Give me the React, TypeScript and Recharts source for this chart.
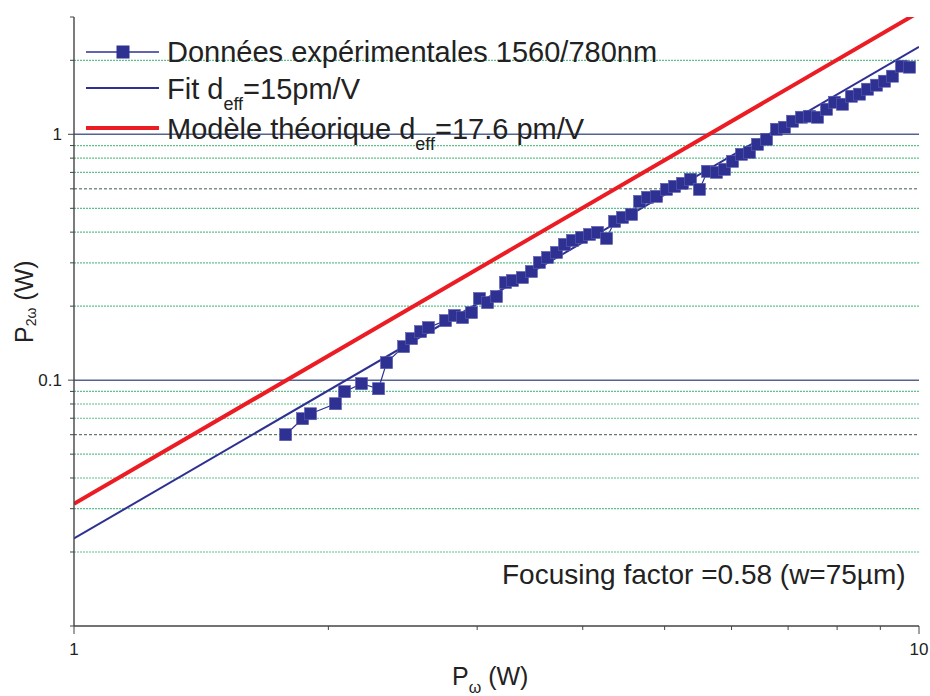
import {
  ComposedChart,
  Line,
  XAxis,
  YAxis,
  ReferenceLine,
  Legend,
  Customized,
} from "recharts";

// measured points (P_omega in W, P_2omega in W)
const pOmega = [
  1.78, 1.864, 1.905, 2.039, 2.09, 2.189, 2.293, 2.344, 2.455, 2.509, 2.571,
  2.627, 2.752, 2.82, 2.883, 2.954, 3.019, 3.086, 3.162, 3.241, 3.303, 3.394,
  3.478, 3.555, 3.634, 3.724, 3.806, 3.89, 3.987, 4.075, 4.165, 4.268, 4.362,
  4.458, 4.569, 4.67, 4.773, 4.891, 5.026, 5.137, 5.25, 5.365, 5.498, 5.619,
  5.759, 5.886, 6.016, 6.165, 6.301, 6.44, 6.6, 6.782, 6.931, 7.085, 7.26,
  7.42, 7.585, 7.772, 7.943, 8.118, 8.319, 8.503, 8.691, 8.906, 9.103, 9.303,
  9.535, 9.745,
];
const p2Omega = [
  0.06, 0.0697, 0.073, 0.0802, 0.0898, 0.0968, 0.0923, 0.1178, 0.1369, 0.1476,
  0.1576, 0.1636, 0.1747, 0.1831, 0.1797, 0.1883, 0.2148, 0.2068, 0.2189,
  0.2495, 0.2542, 0.2615, 0.2766, 0.3011, 0.3155, 0.3307, 0.3564, 0.3701,
  0.3806, 0.3914, 0.3988, 0.3771, 0.4422, 0.4591, 0.4722, 0.5335, 0.5539,
  0.5592, 0.597, 0.614, 0.6315, 0.6557, 0.597, 0.7068, 0.7002, 0.7201, 0.7762,
  0.829, 0.8446, 0.9105, 0.9541, 1.048, 1.068, 1.13, 1.173, 1.184, 1.173,
  1.264, 1.35, 1.325, 1.428, 1.456, 1.525, 1.584, 1.644, 1.723, 1.892, 1.875,
];

// fit d_eff = 15 pm/V and theoretical model d_eff = 17.6 pm/V (end points)
const fitX = [1, 10];
const fitY = [0.0227, 2.27];
const modelX = [1, 10];
const modelY = [0.0314, 3.14];

const xTicks = [1, 2, 3, 4, 5, 6, 7, 8, 9, 10];
const yTicks = [
  0.01, 0.02, 0.03, 0.04, 0.05, 0.06, 0.07, 0.08, 0.09, 0.1, 0.2, 0.3, 0.4,
  0.5, 0.6, 0.7, 0.8, 0.9, 1, 2, 3,
];
const yMajor = [0.1, 1];
const greenLines = [
  0.02, 0.03, 0.04, 0.05, 0.07, 0.08, 0.09, 0.2, 0.3, 0.4, 0.5, 0.7, 0.8, 0.9,
  2,
];
const darkLines = [0.06, 0.6];

const measured = pOmega.map((x, i) => ({ x, y: p2Omega[i] }));
const fitData = fitX.map((x, i) => ({ x, y: fitY[i] }));
const modelData = modelX.map((x, i) => ({ x, y: modelY[i] }));

const FONT = "'Liberation Sans', Arial, sans-serif";
const BLUE = "#2e3192";
const RED = "#ec1c24";
const AXIS = "#444";

const LeftTick = (props: any) => {
  const { x, y, payload } = props;
  const major = yMajor.includes(payload.value);
  return (
    <g>
      <line x1={x - (major ? 6 : 4)} x2={x} y1={y} y2={y} stroke={AXIS} />
      {major && (
        <text x={x - 12} y={y + 6} textAnchor="end" fontSize={17} fontFamily={FONT} fill="#222">
          {payload.value}
        </text>
      )}
    </g>
  );
};

const RightTick = (props: any) => {
  const { x, y, payload } = props;
  if (payload.value === 3 || payload.value === 0.01) return <g />;
  return <line x1={x - 5} x2={x} y1={y} y2={y} stroke={AXIS} />;
};

const BottomTick = (props: any) => {
  const { x, y, payload } = props;
  const major = payload.value === 1 || payload.value === 10;
  return (
    <g>
      <line x1={x} x2={x} y1={y} y2={y + (major ? 8 : 4)} stroke={AXIS} />
      {major && (
        <text x={x} y={y + 29} textAnchor="middle" fontSize={17} fontFamily={FONT} fill="#222">
          {payload.value}
        </text>
      )}
    </g>
  );
};

const TopTick = (props: any) => {
  const { x, y, payload } = props;
  if (payload.value === 1 || payload.value === 10) return <g />;
  return <line x1={x} x2={x} y1={y} y2={y + 4} stroke={AXIS} />;
};

const square = (props: any) => {
  const { cx, cy, index } = props;
  return (
    <rect
      key={`pt-${index}`}
      x={cx - 6}
      y={cy - 6}
      width={12}
      height={12}
      fill={BLUE}
      stroke="#5a5db0"
      strokeWidth={0.6}
    />
  );
};

const LegendBox = () => (
  <svg width={700} height={160} style={{ display: "block" }}>
    <g fontFamily={FONT} fill="#222">
      <line x1={86} x2={159} y1={52} y2={52} stroke={BLUE} strokeWidth={1.5} />
      <rect x={116.5} y={45.5} width={13} height={13} fill={BLUE} />
      <text x={167} y={62} fontSize={29}>
        Données expérimentales 1560/780nm
      </text>

      <line x1={86} x2={159} y1={88} y2={88} stroke={BLUE} strokeWidth={2} />
      <text x={167} y={99} fontSize={29}>
        Fit d
        <tspan fontSize={18} dy={11}>eff</tspan>
        <tspan dy={-11}>=15pm/V</tspan>
      </text>

      <line x1={86} x2={159} y1={128} y2={128} stroke={RED} strokeWidth={4} />
      <text x={167} y={139} fontSize={29}>
        Modèle théorique d
        <tspan fontSize={18} dy={11}>eff</tspan>
        <tspan dy={-11}>=17.6 pm/V</tspan>
      </text>
    </g>
  </svg>
);

const Annotations = () => (
  <g fontFamily={FONT} fill="#222">
    <text x={502} y={584} fontSize={28}>
      Focusing factor =0.58 (w=75µm)
    </text>
    <text x={452} y={685} fontSize={25}>
      P
      <tspan fontSize={16} dy={8}>ω</tspan>
      <tspan dy={-8}> (W)</tspan>
    </text>
    <text transform="translate(33,343) rotate(-90)" fontSize={25}>
      P
      <tspan fontSize={14} dy={3}>2ω</tspan>
      <tspan dy={-3}> (W)</tspan>
    </text>
  </g>
);

const App = () => {
  return (
    <div style={{ position: "absolute", left: 0, top: 0 }}>
      <ComposedChart
        width={930}
        height={696}
        margin={{ top: 17, right: 11, bottom: 40, left: 14 }}
        style={{ background: "#fff" }}
      >
        <XAxis
          dataKey="x"
          type="number"
          scale="log"
          domain={[1, 10]}
          ticks={xTicks}
          interval={0}
          allowDataOverflow
          height={30}
          tickSize={0}
          tickMargin={0}
          tickLine={false}
          tick={<BottomTick />}
          stroke={AXIS}
          strokeWidth={1.4}
        />
        <XAxis
          xAxisId="top"
          orientation="top"
          dataKey="x"
          type="number"
          scale="log"
          domain={[1, 10]}
          ticks={xTicks}
          interval={0}
          allowDataOverflow
          height={0}
          tickSize={0}
          tickMargin={0}
          tickLine={false}
          tick={<TopTick />}
          stroke={AXIS}
          strokeWidth={1.4}
        />
        <YAxis
          type="number"
          scale="log"
          domain={[0.01, 3]}
          ticks={yTicks}
          interval={0}
          allowDataOverflow
          width={60}
          tickSize={0}
          tickMargin={0}
          tickLine={false}
          tick={<LeftTick />}
          stroke={AXIS}
          strokeWidth={1.4}
        />
        <YAxis
          yAxisId="right"
          orientation="right"
          type="number"
          scale="log"
          domain={[0.01, 3]}
          ticks={yTicks}
          interval={0}
          allowDataOverflow
          width={0}
          tickSize={0}
          tickMargin={0}
          tickLine={false}
          tick={<RightTick />}
          stroke={AXIS}
          strokeWidth={1.4}
        />

        {greenLines.map((v) => (
          <ReferenceLine
            key={`g-${v}`}
            y={v}
            stroke="#5fc08c"
            strokeWidth={1.2}
            strokeDasharray="2 1"
          />
        ))}
        {darkLines.map((v) => (
          <ReferenceLine
            key={`d-${v}`}
            y={v}
            stroke="#3d5c4c"
            strokeWidth={1}
            strokeDasharray="3 2"
          />
        ))}
        {yMajor.map((v) => (
          <ReferenceLine key={`m-${v}`} y={v} stroke="#52648f" strokeWidth={1.5} />
        ))}

        <Line
          data={modelData}
          dataKey="y"
          stroke={RED}
          strokeWidth={4}
          dot={false}
          isAnimationActive={false}
        />
        <Line
          data={fitData}
          dataKey="y"
          stroke={BLUE}
          strokeWidth={2}
          dot={false}
          isAnimationActive={false}
        />
        <Line
          data={measured}
          dataKey="y"
          stroke={BLUE}
          strokeWidth={1.2}
          dot={square}
          isAnimationActive={false}
        />

        <Legend
          layout="vertical"
          align="center"
          verticalAlign="middle"
          content={() => <LegendBox />}
          wrapperStyle={{ left: 0, top: 0, width: 700, height: 160 }}
        />
        <Customized component={<Annotations />} />
      </ComposedChart>
    </div>
  );
};

export default App;
